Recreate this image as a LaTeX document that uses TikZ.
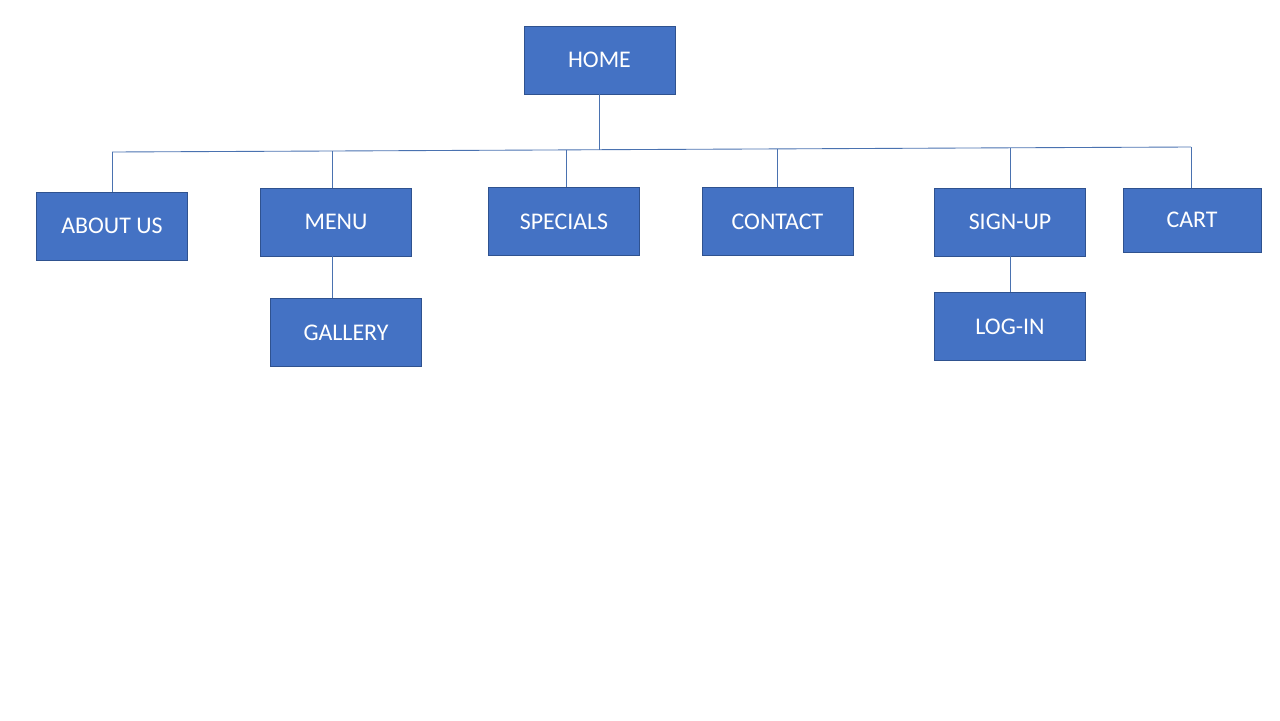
\documentclass[tikz,border=0pt]{standalone}
\usepackage{fontspec}
\setmainfont{Carlito}
\usetikzlibrary{calc}
\definecolor{boxblue}{HTML}{4472C4}
\definecolor{boxedge}{HTML}{2F528F}
\definecolor{linkblue}{HTML}{4A72B0}
\newcommand*{\BoxW}{3.02cm}
\newcommand*{\BoxH}{1.36cm}
\newcommand*{\PlacePages}[1]{% #1 = list of name/x/y/text
  \foreach \name/\x/\y/\text in {#1} {
    \node [page] (\name) at (\x,\y) {\text};
    }%
}
\tikzset{
  page/.style={fill=boxblue, draw=boxedge, line width=0.5pt,
    minimum width=\BoxW, minimum height=\BoxH, inner sep=0pt,
    text=white, font=\fontsize{13.6}{16}\selectfont},
  link/.style={draw=linkblue, line width=0.5pt}
}

\begin{document}
\begin{tikzpicture}[x=0.02cm, y=-0.02cm]
    \useasboundingbox (0,0) rectangle (1280,720);
    \PlacePages{home/599.5/60/HOME,
      about/112/226/ABOUT US,
      menu/336/222/MENU,
      gallery/346/332.5/GALLERY,
      specials/564/221.5/SPECIALS,
      contact/777.5/221.5/CONTACT,
      signup/1010/222/SIGN-UP,
      login/1010/326.5/LOG-IN}
    \node [page, minimum width=2.76cm, minimum height=1.28cm] (cart) at (1192,220) {CART};

    % bus line under home
    \coordinate (b-about) at (112,152);
    \coordinate (b-menu) at (332,151);
    \coordinate (b-specials) at (566,149.9);
    \coordinate (b-home) at (599,149.7);
    \coordinate (b-contact) at (777,148.9);
    \coordinate (b-signup) at (1010,147.8);
    \coordinate (b-cart) at (1191,147);

    \draw [link] (b-about) -- (b-menu) -- (b-specials) -- (b-home)
      -- (b-contact) -- (b-signup) -- (b-cart);
    \draw [link] (home.south -| b-home) -- (b-home);
    \foreach \n in {about,menu,specials,contact,signup,cart}
      \draw [link] (b-\n) -- (b-\n |- \n.north);
    \draw [link] (menu.south -| b-menu) -- (gallery.north -| b-menu);
    \draw [link] (signup.south) -- (login.north);
\end{tikzpicture}
\end{document}
